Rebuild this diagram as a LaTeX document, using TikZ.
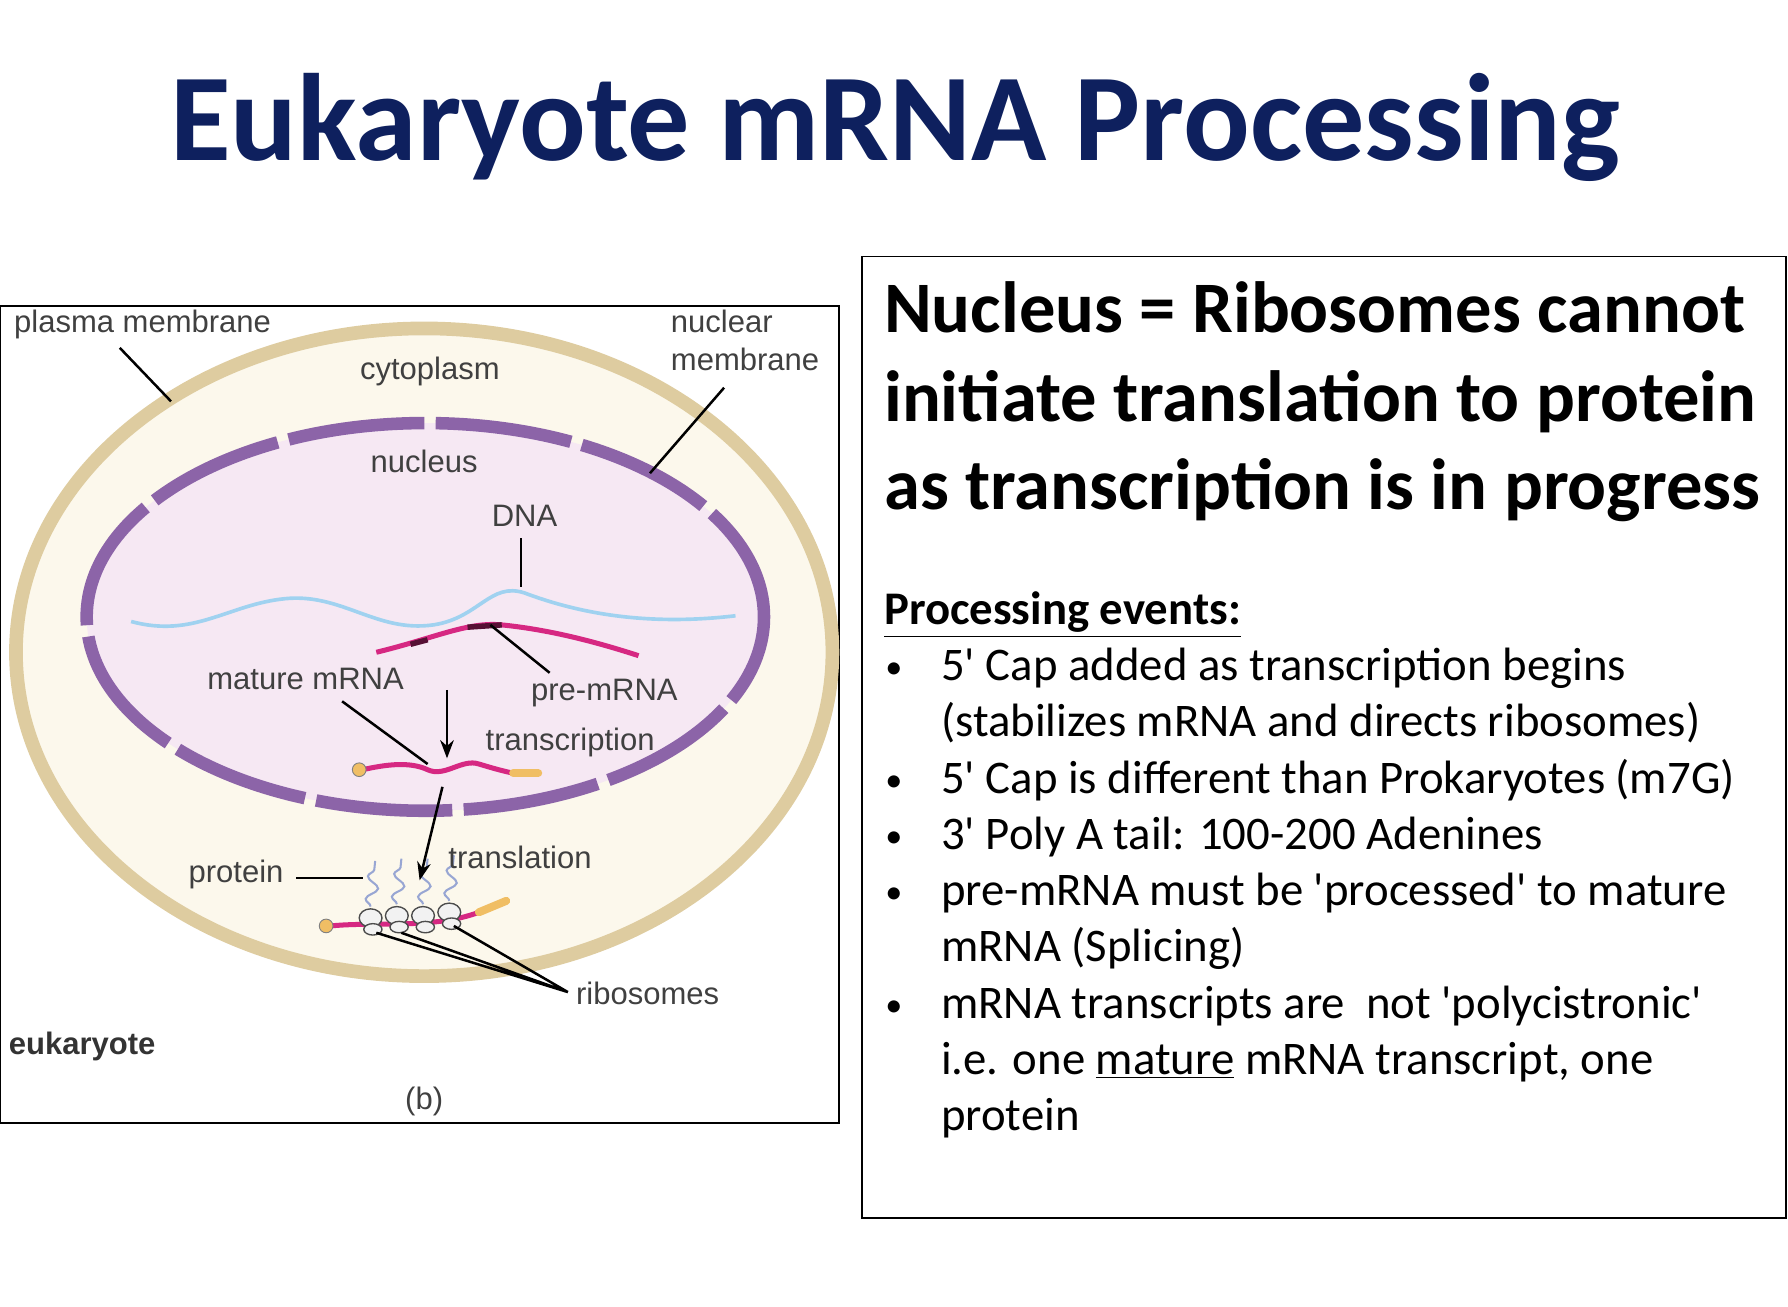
\documentclass[tikz,border=0pt]{standalone}
\usepackage{fontspec}
\setmainfont{Carlito}
\newfontfamily\arial{Liberation Sans}
\usetikzlibrary{decorations.pathmorphing,arrows.meta}
\definecolor{navy}{RGB}{14,32,94}
\definecolor{tan}{RGB}{222,204,160}
\definecolor{beige}{RGB}{252,248,236}
\definecolor{pinkbg}{RGB}{246,232,243}
\definecolor{purp}{RGB}{140,100,168}
\definecolor{dnab}{RGB}{160,210,240}
\definecolor{mag}{RGB}{214,40,130}
\definecolor{capc}{RGB}{240,190,100}
\newcommand{\sq}{\textquotesingle}
\tikzset{lab/.style={font=\arial\fontsize{13.6}{15}\selectfont,text=black!75,inner sep=0pt},
 ptr/.style={line width=1.1pt},
 bod/.style={font=\fontsize{20.5}{24}\selectfont,anchor=base west,inner sep=0pt},
 hd/.style={font=\bfseries\fontsize{31.8}{38}\selectfont,anchor=base west,inner sep=0pt},
 rib/.style={draw=black!70,fill=white!90!gray,line width=0.6pt}}
\begin{document}
\begin{tikzpicture}[x=0.5pt,y=-0.5pt]
\useasboundingbox (0,0) rectangle (1568,1146);
\node[font=\bfseries\fontsize{54.5}{58}\selectfont,text=navy] (title) at (785,112) {Eukaryote mRNA Processing};
\draw[line width=0.8pt] (0,268) rectangle (736,985);
\draw[line width=0.8pt] (756,225) rectangle (1566,1068);
% cell
\draw[fill=beige,draw=tan,line width=6pt] (372,572) ellipse [x radius=358,y radius=284];
\fill[pinkbg] (373,541) ellipse [x radius=297,y radius=170];
\draw[purp,line width=5.5pt,dash pattern=on 60pt off 5pt,dash phase=20pt] (373,541) ellipse [x radius=297,y radius=170];
% DNA
\draw[dnab,line width=1.6pt] (115,545) .. controls (170,560) and (200,530) .. (250,525) .. controls (300,520) and (330,555) .. (380,548) .. controls (420,542) and (430,510) .. (460,520) .. controls (500,535) and (560,550) .. (645,540);
% pre-mRNA
\draw[mag,line width=2.2pt] (330,572) .. controls (380,560) and (410,545) .. (440,548) .. controls (480,552) and (520,562) .. (560,575);
\draw[black!60!mag,line width=2.4pt] (360,565) -- (375,561) (410,550) -- (440,548);
% mature mRNA
\draw[mag,line width=2.2pt] (318,675) .. controls (340,670) and (360,668) .. (375,675) .. controls (390,682) and (405,665) .. (420,670) .. controls (430,673) and (440,676) .. (450,678);
\draw[capc,line width=3.5pt,line cap=round] (450,678) -- (472,678);
\draw[fill=capc,draw=black!50] (315,675) circle (6);
% cytoplasm mRNA with ribosomes
\draw[mag,line width=2.2pt] (290,812) .. controls (330,808) and (380,815) .. (420,800);
\draw[capc,line width=3.5pt,line cap=round] (420,800) -- (444,790);
\draw[fill=capc,draw=black!50] (286,812) circle (6);
\foreach \x/\y in {325/805,348/803,371/803,394/800} {
 \draw[dnab!60!purp,line width=0.9pt,decorate,decoration={snake,amplitude=2.5,segment length=10}] (\x,\y-10) -- (\x+4,\y-50);
 \draw[rib] (\x,\y) ellipse [x radius=10,y radius=8];
 \draw[rib] (\x+2,\y+10) ellipse [x radius=8,y radius=5];
}
% labels
\node[lab,anchor=base west] (pm) at (12,292) {plasma membrane};
\draw[ptr] (105,305) -- (150,352);
\node[lab] (cy) at (377,326) {cytoplasm};
\node[lab,anchor=base west,align=left] (nm) at (588,292) {nuclear};
\node[lab,anchor=base west] (nm2) at (588,325) {membrane};
\draw[ptr] (635,340) -- (570,415);
\node[lab] (nu) at (372,405) {nucleus};
\node[lab] (dna) at (460,452) {DNA};
\draw[ptr] (457,472) -- (457,515);
\node[lab] (mm) at (268,595) {mature mRNA};
\draw[ptr] (300,615) -- (375,670);
\node[lab] (pre) at (530,608) {pre-mRNA};
\draw[ptr] (482,590) -- (430,548);
\node[lab] (tr) at (500,651) {transcription};
\draw[ptr,-{Stealth[length=8pt,width=6pt]}] (392,605) -- (392,665);
\draw[ptr,-{Stealth[length=8pt,width=6pt]}] (388,690) -- (368,772);
\node[lab] (tl) at (456,752) {translation};
\node[lab] (pr) at (207,767) {protein};
\draw[ptr] (260,770) -- (318,770);
\node[lab] (ri) at (568,871) {ribosomes};
\draw[ptr] (498,870) -- (330,818) (498,870) -- (352,818) (498,870) -- (398,812);
\node[lab,font=\arial\bfseries\fontsize{13.6}{15}\selectfont,text=black!80] (eu) at (72,918) {eukaryote};
\node[lab] (b) at (372,966) {(b)};
% right text
\node[hd] (h1) at (775,292) {Nucleus = Ribosomes cannot};
\node[hd] (h2) at (775,370) {initiate translation to protein};
\node[hd] (h3) at (775,447) {as transcription is in progress};
\node[bod,font=\bfseries\fontsize{20.5}{24}\selectfont] (pe) at (775,548) {\underline{Processing events:}};
\foreach \y in {597,696,745,794,893} \node[bod,font=\fontsize{15}{18}\selectfont] at (776,\y-2) {•};
\node[bod] at (825,597) {5\sq{} Cap added as transcription begins};
\node[bod] at (825,646) {(stabilizes mRNA and directs ribosomes)};
\node[bod] at (825,696) {5\sq{} Cap is different than Prokaryotes (m7G)};
\node[bod] at (825,745) {3\sq{} Poly A tail: 100-200 Adenines};
\node[bod] at (825,794) {pre-mRNA must be \sq{}processed\sq{} to mature};
\node[bod] at (825,843) {mRNA (Splicing)};
\node[bod] at (825,893) {mRNA transcripts are\ \ not \sq{}polycistronic\sq};
\node[bod] at (825,942) {i.e. one \underline{mature} mRNA transcript, one};
\node[bod] at (825,991) {protein};
\end{tikzpicture}
\end{document}
